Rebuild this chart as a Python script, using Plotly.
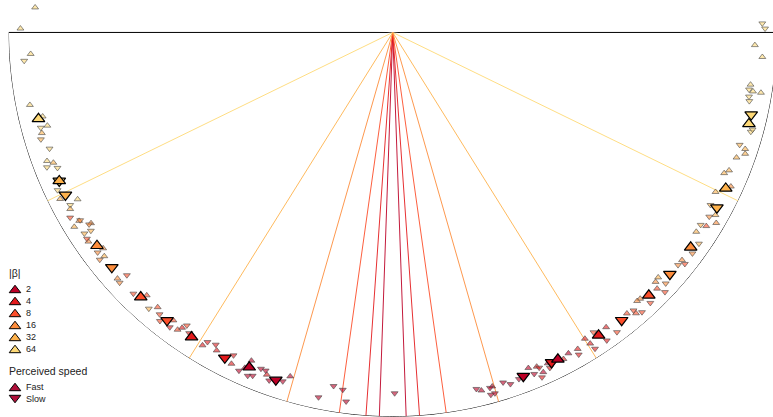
import plotly.graph_objects as go

# ---------------- data ----------------
BETAS = [2, 4, 8, 16, 32, 64]
BETA_COLORS = ["#bd0026", "#e31a1c", "#fc4e2a", "#fd8d3c", "#feb24c", "#fed976"]
SPEEDS = ["Fast", "Slow"]

# individual responses: angle (deg, 0 = straight down, + = right), radius, |beta|, perceived speed
SMALL_THETA = [
    -94.0, -90.6, -86.6, -85.6, -78.7, -76.5, -74.9, -74.85, -74.0, -73.1,
    -71.3, -69.6, -68.7, -69.0, -68.0, -64.8, -63.4, -62.1, -61.85, -61.3,
    -60.15, -59.0, -59.0, -58.6, -57.7, -57.7, -56.7, -56.9, -56.0, -55.5,
    -53.3, -53.3, -52.2, -52.2, -47.6, -48.2, -47.5, -44.8, -43.1, -41.45,
    -40.55, -39.6, -37.3, -38.9, -37.1, -35.9, -35.5, -35.1, -34.1, -31.3,
    -30.9, -29.55, -28.97, -26.25, -25.96, -24.45, -23.8, -23.3, -22.9, -22.2,
    -21.4, -20.6, -20.2, -19.55, -17.5, -16.6, -11.5, -9.5, -7.96, -7.2, 0.3,
    13.2, 13.9, 15.3, 15.7, 15.15, 15.8, 17.5, 18.5, 20.0, 22.0,
    23.3, 22.5, 23.4, 23.9, 23.6, 25.1, 25.1, 27.6, 28.7, 30.3,
    30.0, 32.1, 32.4, 32.6, 33.8, 35.9, 34.8, 36.8, 39.8, 40.9,
    40.9, 41.7, 42.9, 43.6, 46.5, 47.4, 46.35, 45.9, 42.3, 47.3,
    50.8, 51.8, 51.6, 53.6, 55.4, 56.7, 58.0, 58.3, 59.8, 60.5,
    59.5, 61.5, 63.7, 65.5, 67.0, 67.7, 70.0, 72.05, 71.7, 71.0,
    74.5, 74.9, 81.7, 80.9, 80.7, 80.7, 79.8, 79.1, 91.4, 90.6,
    88.0, 86.2,
]
SMALL_R = [
    0.933, 0.969, 0.944, 0.962, 0.963, 0.937, 0.931, 0.949, 0.950, 0.957,
    0.943, 0.960, 0.966, 0.946, 0.941, 0.964, 0.968, 0.928, 0.952, 0.957,
    0.968, 0.949, 0.952, 0.971, 0.929, 0.935, 0.940, 0.958, 0.960, 0.961,
    0.940, 0.958, 0.950, 0.965, 0.937, 0.961, 0.964, 0.958, 0.937, 0.959,
    0.941, 0.952, 0.942, 0.965, 0.962, 0.955, 0.944, 0.932, 0.945, 0.953,
    0.939, 0.934, 0.946, 0.937, 0.959, 0.967, 0.954, 0.930, 0.970, 0.965,
    0.940, 0.940, 0.949, 0.961, 0.952, 0.934, 0.969, 0.933, 0.939, 0.968, 0.939,
    0.953, 0.960, 0.959, 0.957, 0.977, 0.976, 0.955, 0.965, 0.960, 0.942,
    0.947, 0.962, 0.978, 0.967, 0.952, 0.951, 0.964, 0.959, 0.952, 0.954,
    0.968, 0.941, 0.959, 0.977, 0.939, 0.947, 0.976, 0.974, 0.952, 0.957,
    0.967, 0.975, 0.946, 0.972, 0.943, 0.965, 0.979, 0.958, 0.945, 0.940,
    0.958, 0.958, 0.970, 0.969, 0.968, 0.945, 0.945, 0.959, 0.953, 0.965,
    0.977, 0.941, 0.937, 0.967, 0.937, 0.946, 0.952, 0.949, 0.966, 0.970,
    0.967, 0.970, 0.941, 0.939, 0.950, 0.971, 0.942, 0.945, 0.962, 0.969,
    0.943, 0.964,
]
SMALL_BETA = [
    64, 64, 64, 64, 64, 64, 64, 64, 32, 32,
    64, 64, 64, 32, 64, 64, 32, 64, 64, 32,
    8, 16, 16, 32, 16, 16, 32, 32, 8, 16,
    16, 16, 32, 16, 8, 16, 16, 8, 8, 32,
    8, 8, 8, 8, 4, 8, 4, 8, 4, 4,
    4, 4, 4, 4, 4, 2, 2, 2, 2, 2,
    2, 2, 4, 2, 2, 2, 2, 2, 2, 2, 2,
    2, 2, 2, 2, 2, 2, 2, 2, 2, 2,
    4, 2, 4, 2, 4, 2, 4, 4, 2, 4,
    4, 4, 4, 4, 8, 4, 4, 8, 8, 8,
    8, 8, 16, 8, 16, 16, 8, 8, 16, 32,
    16, 16, 8, 16, 32, 32, 32, 8, 16, 32,
    16, 32, 32, 16, 32, 32, 32, 32, 32, 32,
    64, 64, 64, 64, 64, 64, 64, 64, 64, 64,
    64, 64,
]
SMALL_SPEED = [
    "Fast", "Fast", "Fast", "Slow", "Fast", "Fast", "Fast", "Slow", "Fast", "Slow",
    "Slow", "Fast", "Slow", "Fast", "Slow", "Slow", "Fast", "Fast", "Slow", "Fast",
    "Slow", "Slow", "Fast", "Fast", "Fast", "Slow", "Slow", "Slow", "Slow", "Fast",
    "Fast", "Slow", "Fast", "Slow", "Slow", "Fast", "Slow", "Slow", "Fast", "Slow",
    "Fast", "Slow", "Fast", "Slow", "Slow", "Fast", "Fast", "Slow", "Slow", "Fast",
    "Slow", "Slow", "Fast", "Slow", "Fast", "Slow", "Fast", "Fast", "Slow", "Slow",
    "Slow", "Slow", "Fast", "Slow", "Slow", "Fast", "Slow", "Slow", "Slow", "Slow", "Slow",
    "Slow", "Fast", "Slow", "Fast", "Slow", "Slow", "Slow", "Slow", "Slow", "Fast",
    "Fast", "Slow", "Slow", "Fast", "Slow", "Fast", "Slow", "Fast", "Fast", "Fast",
    "Slow", "Fast", "Fast", "Slow", "Slow", "Fast", "Slow", "Slow", "Fast", "Slow",
    "Fast", "Slow", "Fast", "Slow", "Fast", "Slow", "Slow", "Fast", "Fast", "Fast",
    "Slow", "Fast", "Slow", "Slow", "Slow", "Fast", "Slow", "Fast", "Slow", "Fast",
    "Fast", "Slow", "Fast", "Fast", "Fast", "Fast", "Fast", "Slow", "Fast", "Fast",
    "Slow", "Slow", "Fast", "Slow", "Fast", "Fast", "Slow", "Slow", "Slow", "Slow",
    "Fast", "Fast",
]

# condition means
MEAN_THETA = [-76.3, -66.0, -66.0, -63.6, -54.2, -50.1, -43.6, -38.1, -33.45, -27.3, -23.2, -18.6,
              20.8, 25.7, 26.8, 34.2, 38.5, 44.25, 48.9, 54.2, 61.6, 64.9, 77.1, 75.6]
MEAN_R = [0.949, 0.950, 0.950, 0.951, 0.949, 0.953, 0.951, 0.952, 0.950, 0.953, 0.948, 0.954,
          0.957, 0.953, 0.953, 0.953, 0.957, 0.955, 0.957, 0.956, 0.959, 0.957, 0.957, 0.957]
MEAN_BETA = [64, 64, 32, 32, 16, 16, 8, 8, 4, 4, 2, 2,
             2, 4, 2, 4, 8, 8, 16, 16, 32, 32, 64, 64]
MEAN_SPEED = ["Fast", "Slow", "Fast", "Slow", "Fast", "Slow", "Fast", "Slow", "Fast", "Slow", "Fast", "Slow",
              "Slow", "Slow", "Fast", "Fast", "Slow", "Fast", "Slow", "Fast", "Slow", "Fast", "Slow", "Fast"]

# ---------------- helpers ----------------
FONT = "Liberation Sans, Arial, sans-serif"
color_of = dict(zip(BETAS, BETA_COLORS))
symbol_of = {"Fast": "triangle-up", "Slow": "triangle-down"}


def rgba(hexc, a):
    h = hexc.lstrip("#")
    return "rgba(%d,%d,%d,%.2f)" % (int(h[0:2], 16), int(h[2:4], 16), int(h[4:6], 16), a)


fig = go.Figure()

# outline of the half disc: arc + top edge through the centre
ARC_THETA = [t * 0.5 for t in range(-180, 181)]
fig.add_trace(go.Scatterpolar(
    r=[1] * len(ARC_THETA), theta=ARC_THETA, mode="lines",
    line=dict(color="black", width=1), showlegend=False, hoverinfo="skip", cliponaxis=False))
fig.add_trace(go.Scatterpolar(
    r=[1, 0, 1], theta=[-90, 0, 90], mode="lines",
    line=dict(color="black", width=1), showlegend=False, hoverinfo="skip", cliponaxis=False))

# stimulus direction lines at +/- beta
for b in BETAS:
    for sgn in (-1, 1):
        fig.add_trace(go.Scatterpolar(
            r=[0, 1], theta=[sgn * b, sgn * b], mode="lines",
            line=dict(color=rgba(color_of[b], 0.9), width=1),
            showlegend=False, hoverinfo="skip", cliponaxis=False))

# individual responses
for b in BETAS[::-1]:
    for sp in SPEEDS:
        idx = [i for i in range(len(SMALL_THETA)) if SMALL_BETA[i] == b and SMALL_SPEED[i] == sp]
        if not idx:
            continue
        fig.add_trace(go.Scatterpolar(
            r=[SMALL_R[i] for i in idx], theta=[SMALL_THETA[i] for i in idx],
            mode="markers", cliponaxis=False, showlegend=False,
            marker=dict(symbol=symbol_of[sp], size=6, color=rgba(color_of[b], 0.6),
                        line=dict(color="rgba(70,70,70,0.6)", width=1))))

# means
for b in BETAS[::-1]:
    for sp in SPEEDS:
        idx = [i for i in range(len(MEAN_THETA)) if MEAN_BETA[i] == b and MEAN_SPEED[i] == sp]
        if not idx:
            continue
        fig.add_trace(go.Scatterpolar(
            r=[MEAN_R[i] for i in idx], theta=[MEAN_THETA[i] for i in idx],
            mode="markers", cliponaxis=False, showlegend=False,
            marker=dict(symbol=symbol_of[sp], size=11, color=color_of[b],
                        line=dict(color="black", width=1.2))))

W, H = 777, 417

# ---------------- hand-made legend (pixel-like cartesian frame) ----------------
LEG_X = 15
beta_rows = [289 + 12 * k for k in range(len(BETAS))]
fig.add_trace(go.Scatter(
    x=[LEG_X] * len(BETAS), y=[y + 1.2 for y in beta_rows], mode="markers",
    marker=dict(symbol="triangle-up", size=10, color=BETA_COLORS, line=dict(color="black", width=1)),
    xaxis="x", yaxis="y", showlegend=False, hoverinfo="skip", cliponaxis=False))
speed_rows = [387, 399]
fig.add_trace(go.Scatter(
    x=[LEG_X, LEG_X], y=[speed_rows[0] + 1.2, speed_rows[1] - 1.2], mode="markers",
    marker=dict(symbol=["triangle-up", "triangle-down"], size=10, color="#b0103a",
                line=dict(color="black", width=1)),
    xaxis="x", yaxis="y", showlegend=False, hoverinfo="skip", cliponaxis=False))

annotations = [dict(x=7, y=273, xref="x", yref="y", text="|β|", showarrow=False,
                    xanchor="left", yanchor="middle", font=dict(family=FONT, size=10.5, color="#222"))]
for b, y in zip(BETAS, beta_rows):
    annotations.append(dict(x=24, y=y, xref="x", yref="y", text=str(b), showarrow=False,
                            xanchor="left", yanchor="middle", font=dict(family=FONT, size=9, color="#222")))
annotations.append(dict(x=7, y=371, xref="x", yref="y", text="Perceived speed", showarrow=False,
                        xanchor="left", yanchor="middle", font=dict(family=FONT, size=10.5, color="#222")))
for sp, y in zip(SPEEDS, speed_rows):
    annotations.append(dict(x=24, y=y, xref="x", yref="y", text=sp, showarrow=False,
                            xanchor="left", yanchor="middle", font=dict(family=FONT, size=9, color="#222")))

fig.update_layout(
    width=W, height=H, margin=dict(l=0, r=0, t=0, b=0),
    paper_bgcolor="white", plot_bgcolor="rgba(0,0,0,0)",
    font=dict(family=FONT),
    showlegend=False,
    polar=dict(
        domain=dict(x=[8.5 / W, 1.0], y=[0.0, 1.0]),
        sector=[175.2, 364.8],
        bgcolor="rgba(0,0,0,0)",
        radialaxis=dict(range=[0, 1], visible=False, showgrid=False),
        angularaxis=dict(rotation=270, direction="counterclockwise", showgrid=False,
                         showticklabels=False, ticks="", showline=False),
    ),
    xaxis=dict(domain=[0, 0.15], range=[0, 0.15 * W], visible=False, fixedrange=True),
    yaxis=dict(domain=[0, 0.4], range=[H, H - 0.4 * H], visible=False, fixedrange=True),
    annotations=annotations,
)

fig.write_html(
    "out.html",
    config={"displayModeBar": False},
    post_script="document.body.style.margin='0';document.body.style.overflow='hidden';"
                "document.documentElement.style.overflow='hidden';",
)
